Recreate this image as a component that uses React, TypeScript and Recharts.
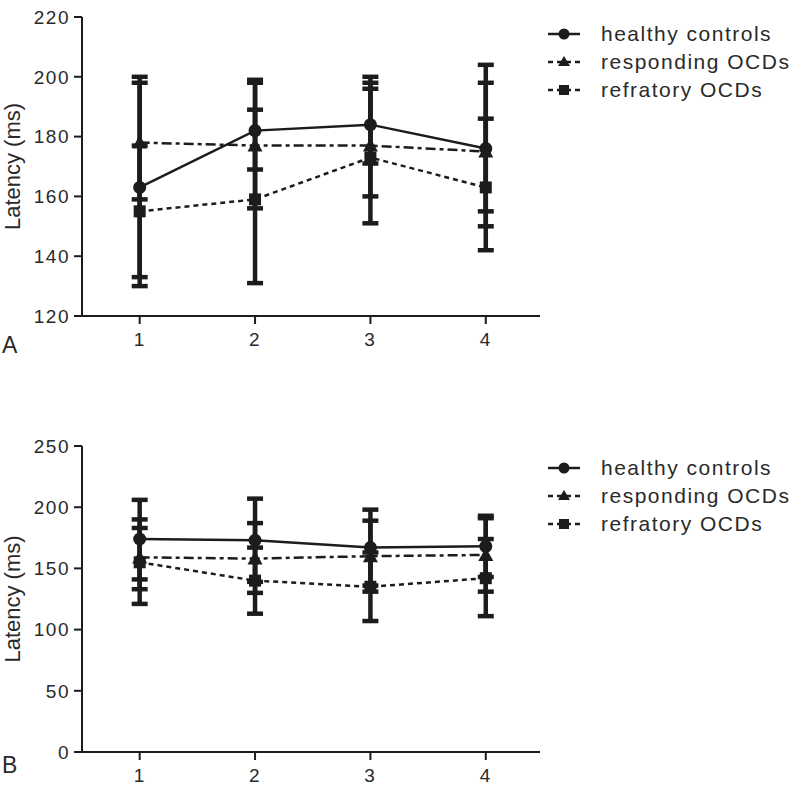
import React from 'react'
import { ComposedChart, Line, XAxis, YAxis, ErrorBar, Legend } from 'recharts'

// ---------------------------------------------------------------------------
// Data (latency in ms per session)
// ---------------------------------------------------------------------------

const sessions = [1, 2, 3, 4]

// Panel A
const healthyA = [163, 182, 184, 176]
const healthyALo = [130, 169, 171, 155]
const healthyAHi = [200, 198, 198, 198]
const respondingA = [178, 177, 177, 175]
const respondingALo = [159, 156, 160, 150]
const respondingAHi = [198, 199, 196, 204]
const refractoryA = [155, 159, 173, 163]
const refractoryALo = [133, 131, 151, 142]
const refractoryAHi = [177, 189, 200, 186]

// Panel B
const healthyB = [174, 173, 167, 168]
const healthyBLo = [141, 139, 136, 143]
const healthyBHi = [206, 207, 198, 193]
const respondingB = [159, 158, 160, 161]
const respondingBLo = [133, 130, 131, 131]
const respondingBHi = [183, 187, 189, 191]
const refractoryB = [155, 140, 135, 142]
const refractoryBLo = [121, 113, 107, 111]
const refractoryBHi = [190, 167, 163, 174]

const ticksA = [120, 140, 160, 180, 200, 220]
const ticksB = [0, 50, 100, 150, 200, 250]

const legendLabels = ['healthy controls', 'responding OCDs', 'refratory OCDs']

// ---------------------------------------------------------------------------
// Styling
// ---------------------------------------------------------------------------

const INK = '#1c1c1c'
const TEXT = '#2a2a2a'
const FONT = '"Liberation Sans", Arial, Helvetica, sans-serif'

const DASH = {
  responding: '10 4 4 4',
  refractory: '5 4',
} as const

function buildRows(
  h: number[], hLo: number[], hHi: number[],
  r: number[], rLo: number[], rHi: number[],
  f: number[], fLo: number[], fHi: number[],
) {
  return sessions.map((x, i) => ({
    x,
    healthy: h[i],
    healthyErr: [h[i] - hLo[i], hHi[i] - h[i]],
    responding: r[i],
    respondingErr: [r[i] - rLo[i], rHi[i] - r[i]],
    refractory: f[i],
    refractoryErr: [f[i] - fLo[i], fHi[i] - f[i]],
  }))
}

const rowsA = buildRows(
  healthyA, healthyALo, healthyAHi,
  respondingA, respondingALo, respondingAHi,
  refractoryA, refractoryALo, refractoryAHi,
)
const rowsB = buildRows(
  healthyB, healthyBLo, healthyBHi,
  respondingB, respondingBLo, respondingBHi,
  refractoryB, refractoryBLo, refractoryBHi,
)

// ---------------------------------------------------------------------------
// Markers
// ---------------------------------------------------------------------------

function circleDot(p: any) {
  if (p.cx == null || p.cy == null) return <g key={`c${p.index}`} />
  return <circle key={`c${p.index}`} cx={p.cx} cy={p.cy} r={6.5} fill={INK} />
}

function triangleDot(p: any) {
  if (p.cx == null || p.cy == null) return <g key={`t${p.index}`} />
  const { cx, cy } = p
  const s = 7.5
  return (
    <polygon
      key={`t${p.index}`}
      points={`${cx},${cy - s} ${cx + s},${cy + s * 0.8} ${cx - s},${cy + s * 0.8}`}
      fill={INK}
    />
  )
}

function squareDot(p: any) {
  if (p.cx == null || p.cy == null) return <g key={`s${p.index}`} />
  return <rect key={`s${p.index}`} x={p.cx - 6} y={p.cy - 6} width={12} height={12} fill={INK} />
}

function LegendBox() {
  const swatches = [
    <g>
      <line x1={2} y1={10} x2={34} y2={10} stroke={INK} strokeWidth={2.5} />
      <circle cx={18} cy={10} r={5.5} fill={INK} />
    </g>,
    <g>
      <line x1={2} y1={10} x2={34} y2={10} stroke={INK} strokeWidth={2.5} strokeDasharray="5 4" />
      <polygon points="18,4 24,14 12,14" fill={INK} />
    </g>,
    <g>
      <line x1={2} y1={10} x2={34} y2={10} stroke={INK} strokeWidth={2.5} strokeDasharray="5 4" />
      <rect x={13} y={5} width={10} height={10} fill={INK} />
    </g>,
  ]
  return (
    <div style={{ fontFamily: FONT, fontSize: 21, letterSpacing: 1.5, color: TEXT }}>
      {legendLabels.map((label, i) => (
        <div key={label} style={{ display: 'flex', alignItems: 'center', height: 28 }}>
          <svg width={36} height={20} style={{ marginRight: 19 }}>
            {swatches[i]}
          </svg>
          <span style={{ lineHeight: '28px' }}>{label}</span>
        </div>
      ))}
    </div>
  )
}

interface PanelProps {
  rows: ReturnType<typeof buildRows>
  domain: [number, number]
  ticks: number[]
  height: number
  marginTop: number
  marginBottom: number
  legendTop: number
}

function Panel({ rows, domain, ticks, height, marginTop, marginBottom, legendTop }: PanelProps) {
  const tickStyle = { fontSize: 19, fill: TEXT, fontFamily: FONT, letterSpacing: 1.5 }
  return (
    <ComposedChart
      width={800}
      height={height}
      data={rows}
      margin={{ top: marginTop, right: 260, left: 0, bottom: marginBottom }}
    >
      <XAxis
        dataKey="x"
        type="number"
        domain={[0.5, 4.47]}
        ticks={sessions}
        tick={tickStyle}
        tickSize={8}
        tickMargin={9}
        axisLine={{ stroke: INK, strokeWidth: 2 }}
        tickLine={{ stroke: INK, strokeWidth: 2 }}
        height={34}
      />
      <YAxis
        domain={domain}
        ticks={ticks}
        interval={0}
        tick={tickStyle}
        tickSize={8}
        tickMargin={4}
        width={82}
        axisLine={{ stroke: INK, strokeWidth: 2 }}
        tickLine={{ stroke: INK, strokeWidth: 2 }}
        label={{
          value: 'Latency (ms)',
          angle: -90,
          position: 'insideLeft',
          offset: 12,
          style: { textAnchor: 'middle', fontSize: 22, fill: TEXT, fontFamily: FONT },
        }}
      />
      {/* vertical + centered + middle keeps the legend from shrinking the plot */}
      <Legend
        layout="vertical"
        align="center"
        verticalAlign="middle"
        content={<LegendBox />}
        wrapperStyle={{ left: 546, top: legendTop, width: 254 }}
      />

      <Line
        dataKey="healthy"
        stroke={INK}
        strokeWidth={2.5}
        dot={circleDot}
        activeDot={false}
        isAnimationActive={false}
      >
        <ErrorBar dataKey="healthyErr" direction="y" width={8} stroke={INK} strokeWidth={4.5} />
      </Line>
      <Line
        dataKey="responding"
        stroke={INK}
        strokeWidth={2.5}
        strokeDasharray={DASH.responding}
        dot={triangleDot}
        activeDot={false}
        isAnimationActive={false}
      >
        <ErrorBar dataKey="respondingErr" direction="y" width={8} stroke={INK} strokeWidth={4.5} />
      </Line>
      <Line
        dataKey="refractory"
        stroke={INK}
        strokeWidth={2.5}
        strokeDasharray={DASH.refractory}
        dot={squareDot}
        activeDot={false}
        isAnimationActive={false}
      >
        <ErrorBar dataKey="refractoryErr" direction="y" width={8} stroke={INK} strokeWidth={4.5} />
      </Line>
    </ComposedChart>
  )
}

export default function App() {
  const letter = { position: 'absolute' as const, left: 2, fontFamily: FONT, fontSize: 23, color: TEXT }
  return (
    <div style={{ position: 'absolute', left: 0, top: 0, width: 800, height: 786, background: '#fff' }}>
      <div style={{ position: 'absolute', left: 0, top: 0 }}>
        <Panel
          rows={rowsA}
          domain={[120, 220]}
          ticks={ticksA}
          height={390}
          marginTop={17}
          marginBottom={40}
          legendTop={20}
        />
      </div>
      <div style={{ position: 'absolute', left: 0, top: 400 }}>
        <Panel
          rows={rowsB}
          domain={[0, 250]}
          ticks={ticksB}
          height={386}
          marginTop={46}
          marginBottom={0}
          legendTop={54}
        />
      </div>
      <div style={{ ...letter, top: 332 }}>A</div>
      <div style={{ ...letter, top: 752 }}>B</div>
    </div>
  )
}
